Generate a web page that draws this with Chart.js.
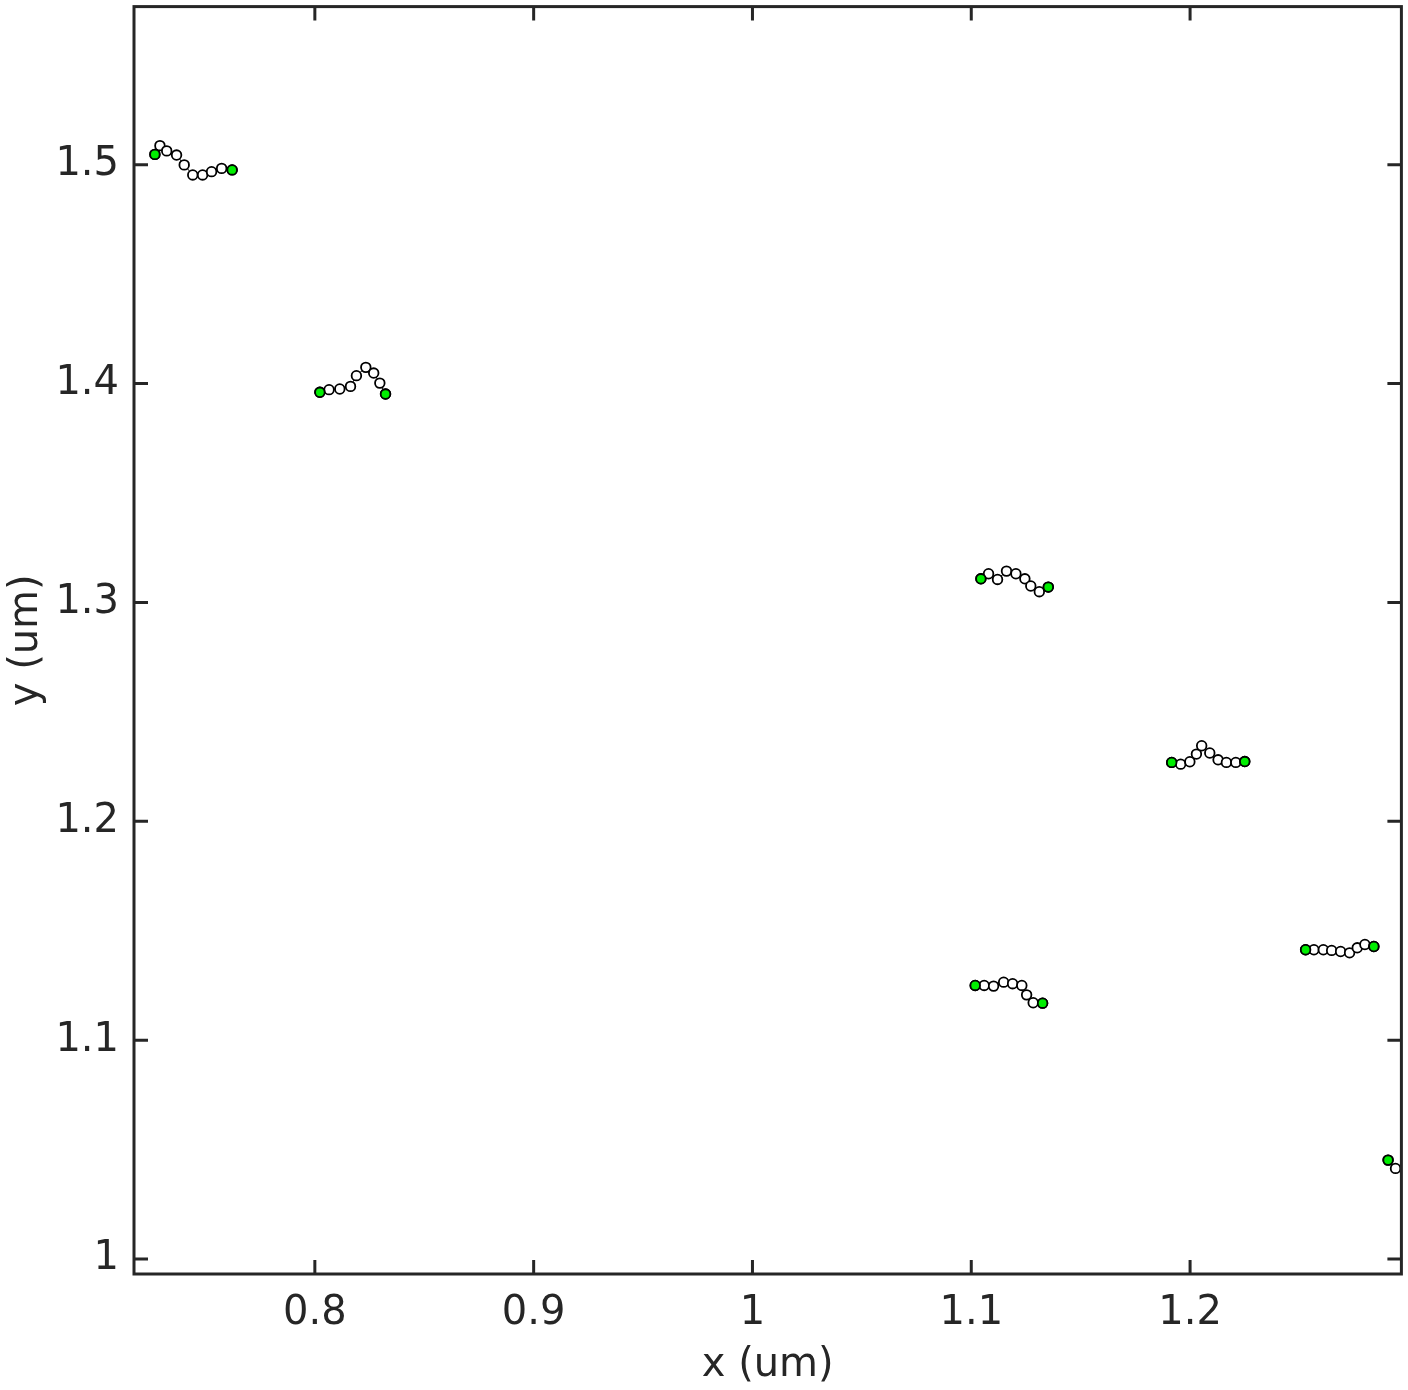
<!DOCTYPE html>
<html><head><meta charset="utf-8">
<script src="https://cdn.jsdelivr.net/npm/chart.js@4/dist/chart.umd.min.js"></script>
<style>html,body{margin:0;padding:0;background:#fff;}canvas{display:block}</style>
</head><body>
<canvas id="c" width="1408" height="1390"></canvas>
<script>
// ---- data ----
const track1X = [0.7269,0.7292,0.7323,0.7368,0.7403,0.7442,0.7487,0.7528,0.7574,0.7622];
const track1Y = [1.5047,1.5087,1.5063,1.5044,1.4999,1.4953,1.4953,1.4968,1.4983,1.4976];
const track2X = [0.8023,0.8065,0.8114,0.8163,0.8190,0.8233,0.8269,0.8297,0.8323];
const track2Y = [1.3960,1.3972,1.3975,1.3987,1.4036,1.4074,1.4048,1.4002,1.3952];
const track3X = [1.1044,1.1079,1.1120,1.1161,1.1204,1.1245,1.1272,1.1311,1.1352];
const track3Y = [1.3108,1.3131,1.3105,1.3143,1.3131,1.3108,1.3075,1.3049,1.3070];
const track4X = [1.1916,1.1957,1.1999,1.2029,1.2053,1.2090,1.2128,1.2166,1.2209,1.2250];
const track4Y = [1.2269,1.2261,1.2272,1.2307,1.2345,1.2312,1.2281,1.2269,1.2269,1.2273];
const track5X = [1.1018,1.1059,1.1102,1.1148,1.1189,1.1231,1.1253,1.1283,1.1326];
const track5Y = [1.1250,1.1250,1.1247,1.1265,1.1258,1.1250,1.1207,1.1171,1.1169];
const track6X = [1.2528,1.2566,1.2609,1.2647,1.2688,1.2729,1.2764,1.2799,1.2840];
const track6Y = [1.1413,1.1413,1.1413,1.1410,1.1405,1.1399,1.1422,1.1437,1.1428];
const track7X = [1.2905,1.2939];
const track7Y = [1.0452,1.0414];
const trackHasEnd = [true,true,true,true,true,true,false];

const xTickValues = [0.8,0.9,1.0,1.1,1.2];
const xTickLabels = ['0.8','0.9','1','1.1','1.2'];
const yTickValues = [1.0,1.1,1.2,1.3,1.4,1.5];
const yTickLabels = ['1','1.1','1.2','1.3','1.4','1.5'];
const xRange = [0.71735, 1.29658];
const yRange = [0.99316, 1.57222];
const xTitle = 'x (um)';
const yTitle = 'y (um)';

// ---- build ----
const tracksX = [track1X,track2X,track3X,track4X,track5X,track6X,track7X];
const tracksY = [track1Y,track2Y,track3Y,track4Y,track5Y,track6Y,track7Y];
const INK = '#262626';
const GREEN = '#00ee00';
const FONT = "'DejaVu Sans', sans-serif";

const datasets = tracksX.map((xs,i)=>({
  data: xs.map((x,j)=>({x:x, y:tracksY[i][j]})),
  showLine: true,
  borderColor: '#000',
  borderWidth: 1,
  pointRadius: 4.8,
  pointBorderWidth: 1.8,
  pointBorderColor: '#000',
  pointBackgroundColor: '#fff',
  order: 1
}));
const ends = [];
tracksX.forEach((xs,i)=>{
  ends.push({x:xs[0], y:tracksY[i][0]});
  if (trackHasEnd[i]) ends.push({x:xs[xs.length-1], y:tracksY[i][xs.length-1]});
});
datasets.push({
  data: ends, showLine:false, pointRadius:4.8, pointBorderWidth:1.8,
  pointBorderColor:'#000', pointBackgroundColor: GREEN, order: 0
});

const framePlugin = {
  id:'frame',
  afterDraw(chart){
    const {ctx, chartArea:a, scales:{x,y}} = chart;
    ctx.save();
    ctx.strokeStyle = INK; ctx.lineWidth = 3; ctx.lineCap='butt';
    const L = 14;
    ctx.beginPath();
    xTickValues.forEach(v=>{
      const px = x.getPixelForValue(v);
      ctx.moveTo(px, a.bottom); ctx.lineTo(px, a.bottom-L);
      ctx.moveTo(px, a.top); ctx.lineTo(px, a.top+L);
    });
    yTickValues.forEach(v=>{
      const py = y.getPixelForValue(v);
      ctx.moveTo(a.left, py); ctx.lineTo(a.left+L, py);
      ctx.moveTo(a.right, py); ctx.lineTo(a.right-L, py);
    });
    ctx.stroke();
    ctx.strokeRect(a.left, a.top, a.right-a.left, a.bottom-a.top);
    ctx.restore();
  }
};

new Chart(document.getElementById('c'), {
  type:'scatter',
  data:{datasets},
  plugins:[framePlugin],
  options:{
    responsive:false, animation:false,
    layout:{padding:{top:4.7,right:5.5,left:0,bottom:0}},
    plugins:{legend:{display:false}, tooltip:{enabled:false}},
    scales:{
      x:{
        type:'linear', min:xRange[0], max:xRange[1],
        grid:{display:false, drawTicks:false},
        border:{display:false},
        afterBuildTicks:s=>{s.ticks = xTickValues.map(v=>({value:v}));},
        afterFit:s=>{s.height = 116; s.paddingLeft = 0; s.paddingRight = 0;},
        ticks:{autoSkip:false, maxRotation:0, padding:16, color:INK,
          font:{family:FONT,size:40},
          callback:(v,i)=>xTickLabels[i]},
        title:{display:true, text:xTitle, color:INK, font:{family:FONT,size:40}, padding:{top:0,bottom:0}}
      },
      y:{
        type:'linear', min:yRange[0], max:yRange[1],
        grid:{display:false, drawTicks:false},
        border:{display:false},
        afterBuildTicks:s=>{s.ticks = yTickValues.map(v=>({value:v}));},
        afterFit:s=>{s.width = 134; s.paddingTop = 0; s.paddingBottom = 0;},
        ticks:{autoSkip:false, padding:15, color:INK,
          font:{family:FONT,size:40},
          callback:(v,i)=>yTickLabels[i]},
        title:{display:true, text:yTitle, color:INK, font:{family:FONT,size:40}, padding:{top:3,bottom:0}}
      }
    }
  }
});
</script>
</body></html>
